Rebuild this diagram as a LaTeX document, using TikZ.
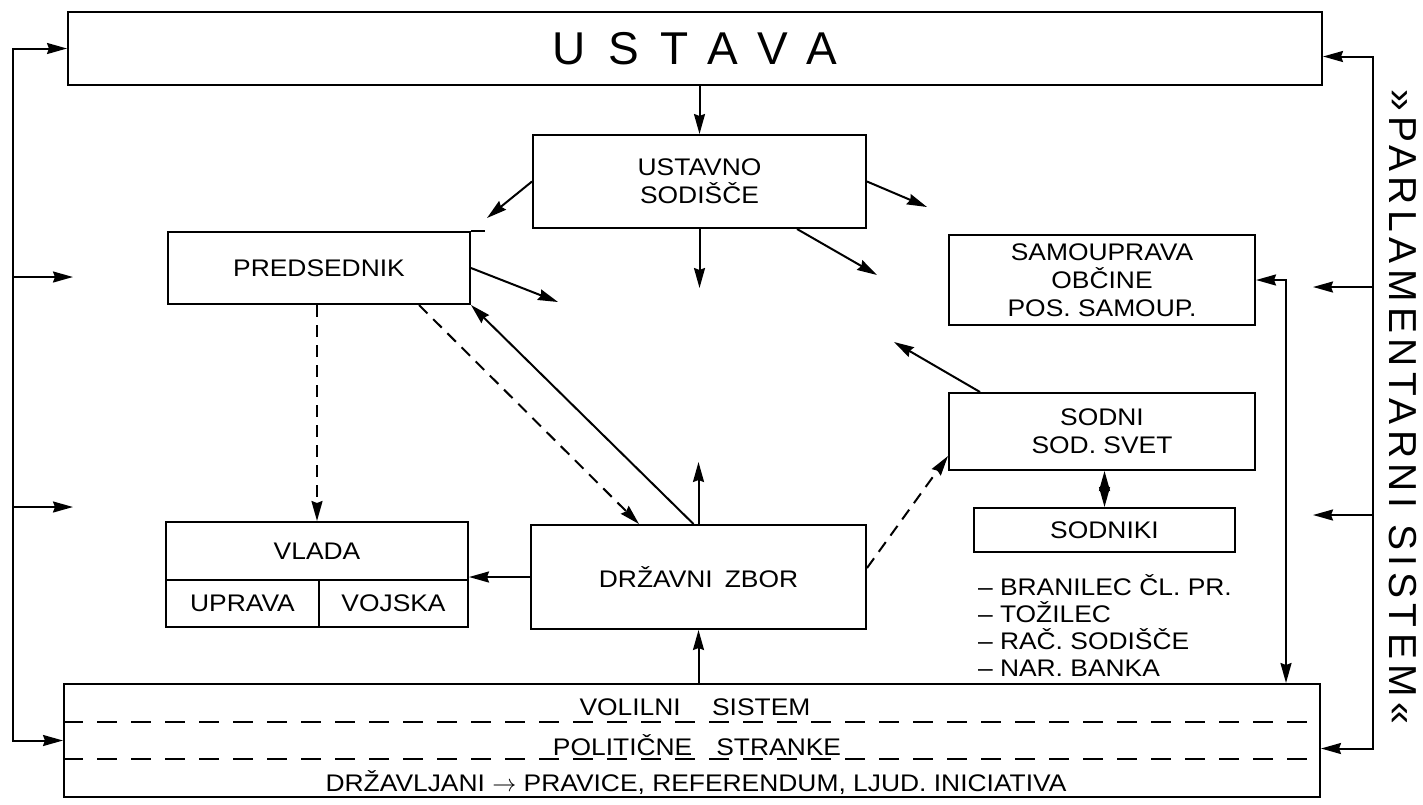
\documentclass[tikz,border=0pt]{standalone}
\usepackage{fontspec}
\setmainfont[FakeStretch=1.1]{Liberation Sans}
\newfontfamily\ustavafont[LetterSpace=48]{Liberation Sans}
\newfontfamily\sidefont[LetterSpace=14]{Liberation Sans}
\usetikzlibrary{arrows.meta,calc}

\begin{document}
\begin{tikzpicture}[x=0.5pt,y=-0.5pt,line width=1pt,
    box/.style={draw,inner sep=0pt,align=center,font=\fontsize{12}{14}\selectfont},
    txt/.style={inner sep=0pt,align=center,font=\fontsize{12}{14}\selectfont},
    pf/.style={-{Stealth[length=10pt,width=5.5pt,inset=1pt]}},
    ppf/.style={{Stealth[length=10pt,width=5.5pt,inset=1pt]}-{Stealth[length=10pt,width=5.5pt,inset=1pt]}},
    gestr/.style={dash pattern=on 6pt off 4pt},
    trenn/.style={dash pattern=on 10pt off 7pt}]
  \useasboundingbox (0,0) rectangle (1423,804);
  % Kaesten
  \node[box,font=\fontsize{23}{23}\ustavafont,minimum width=627pt,minimum height=36.5pt] (ustava) at (695,48.5) {USTAVA};
  \node[box,minimum width=166.5pt,minimum height=46.5pt] (ustsod) at (699.5,181.5) {USTAVNO\\SODIŠČE};
  \node[box,minimum width=151pt,minimum height=36pt] (pred) at (319,268) {PREDSEDNIK};
  \node[box,minimum width=153pt,minimum height=45pt] (samo) at (1102,280) {SAMOUPRAVA\\OBČINE\\POS. SAMOUP.};
  \node[box,minimum width=153pt,minimum height=38.5pt] (sodni) at (1102,431.5) {SODNI\\SOD. SVET};
  \node[box,minimum width=130.5pt,minimum height=22pt] (sodniki) at (1104.5,530) {SODNIKI};
  \node[txt,anchor=west,align=left,font=\fontsize{12}{13.5}\selectfont] (ostali) at (977,625) {-- BRANILEC ČL. PR.\\-- TOŽILEC\\-- RAČ. SODIŠČE\\-- NAR. BANKA};
  \node[box,minimum width=151pt,minimum height=29pt] (vlada) at (317,551) {VLADA};
  \node[box,minimum width=76.5pt,minimum height=23.5pt] (uprava) at (242.5,603.5) {UPRAVA};
  \node[box,minimum width=74.5pt,minimum height=23.5pt] (vojska) at (393.5,603.5) {VOJSKA};
  \node[box,minimum width=167.5pt,minimum height=52pt] (dz) at (698.5,577) {DRŽAVNI\enspace ZBOR};
  \node[box,minimum width=628pt,minimum height=56.5pt] (volilni) at (692,740.5) {};
  \node[txt] (vs) at (695,707) {VOLILNI \quad SISTEM};
  \node[txt] (ps) at (697,745) {POLITIČNE\quad STRANKE};
  \node[txt] (dr) at (696,783) {DRŽAVLJANI $\rightarrow$ PRAVICE, REFERENDUM, LJUD. INICIATIVA};
  \node[rotate=-90,font=\fontsize{19.5}{19.5}\sidefont] (parl) at (1403,407) {»PARLAMENTARNI SISTEM«};
  \draw (pred.north east) -- ++(14,0);
  % Trennlinien
  \draw[trenn] ($(volilni.north west)+(0,39)$) -- ($(volilni.north east)+(0,39)$);
  \draw[trenn] ($(volilni.north west)+(0,76)$) -- ($(volilni.north east)+(0,76)$);
  % freie Enden
  \coordinate (a1) at (487,218);
  \coordinate (a2) at (927,207);
  \coordinate (a3) at (699.5,288);
  \coordinate (a4) at (877,275);
  \coordinate (a5) at (558,302);
  \coordinate (a6) at (698.5,462);
  \coordinate (a7) at (894,342);
  \coordinate (lbus) at (13,400);
  \coordinate (rbus) at (1373,400);
  \coordinate (l1) at (73,277);
  \coordinate (l2) at (73,507);
  \coordinate (r1) at (1313,287);
  \coordinate (r2) at (1313,515);
  % Pfeile
  \draw[pf] (ustava.south -| ustsod.north) -- (ustsod.north);
  \draw[pf] (ustsod.west) -- (a1);
  \draw[pf] (ustsod.east) -- (a2);
  \draw[pf] (ustsod.south) -- (a3);
  \draw[pf] ($(ustsod.south east)+(-70,0)$) -- (a4);
  \draw[pf] (pred.east) -- (a5);
  \draw[pf,gestr] (pred.south -| vlada.north) -- (vlada.north);
  \draw[pf,gestr] ($(pred.south east)+(-52,0)$) -- ($(dz.north west)+(109,0)$);
  \draw[pf] ($(dz.north)+(-5,0)$) -- (pred.south east);
  \draw[pf] (dz.north) -- (a6);
  \draw[pf] (dz.west) -- (dz.west -| vlada.east);
  \draw[pf,gestr] ($(dz.east)+(0,-9)$) -- ($(sodni.south west)+(0,-15)$);
  \draw[pf] ($(sodni.north west)+(32,0)$) -- (a7);
  \draw[ppf] (sodni.south -| sodniki.north) -- (sodniki.north);
  \draw[pf] (volilni.north -| dz.south) -- (dz.south);
  \draw[ppf] (samo.east) -| ($(volilni.north east)+(-35,0)$);
  % Rueckkopplung links und rechts
  \draw[ppf] (ustava.west) -| (lbus) |- (volilni.west);
  \foreach \p in {l1,l2}
    \draw[pf] (lbus |- \p) -- (\p);
  \draw[ppf] ($(ustava.east)+(0,8)$) -| (rbus) |- ($(volilni.east)+(0,8)$);
  \foreach \p in {r1,r2}
    \draw[pf] (rbus |- \p) -- (\p);
\end{tikzpicture}
\end{document}
